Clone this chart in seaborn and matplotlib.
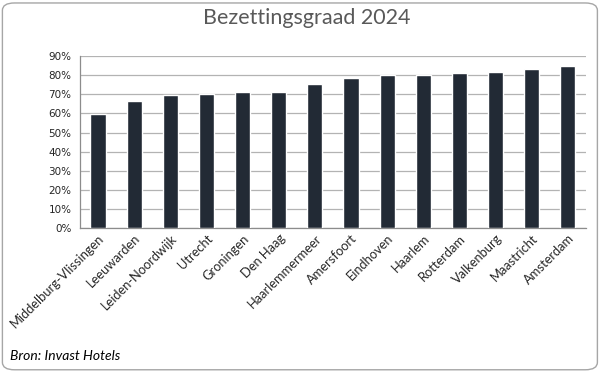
import numpy as np
import pandas as pd
import seaborn as sns
import matplotlib.pyplot as plt
from matplotlib.patches import FancyBboxPatch
from matplotlib.ticker import PercentFormatter

# data
steden = ["Middelburg-Vlissingen", "Leeuwarden", "Leiden-Noordwijk", "Utrecht",
          "Groningen", "Den Haag", "Haarlemmermeer", "Amersfoort", "Eindhoven",
          "Haarlem", "Rotterdam", "Valkenburg", "Maastricht", "Amsterdam"]
bezetting = [0.597, 0.665, 0.696, 0.702, 0.712, 0.713, 0.754, 0.785,
             0.801, 0.801, 0.812, 0.817, 0.832, 0.848]
y_ticks = [0, 0.1, 0.2, 0.3, 0.4, 0.5, 0.6, 0.7, 0.8, 0.9]

df = pd.DataFrame({"stad": steden, "bezetting": bezetting})

sns.set_style("white")
plt.rcParams['font.family'] = ['Lato', 'DejaVu Sans']

fig = plt.figure(figsize=(6.01, 3.72), dpi=100)
ax = fig.add_axes([0.133, 0.387, 0.842, 0.462])

sns.barplot(data=df, x="stad", y="bezetting", color="#222a35",
            width=0.42, saturation=1, ax=ax, zorder=3)

ax.set_ylim(0, 0.9)
ax.set_yticks(y_ticks)
ax.yaxis.set_major_formatter(PercentFormatter(1.0, decimals=0))
ax.set_xlim(-0.5, len(steden) - 0.5)
ax.grid(axis="y", color="#b3b3b3", linewidth=0.9, zorder=0)
ax.set_xlabel("")
ax.set_ylabel("")

for side in ["top", "right"]:
    ax.spines[side].set_visible(False)
for side in ["left", "bottom"]:
    ax.spines[side].set_color("#8c8c8c")
    ax.spines[side].set_linewidth(0.9)

ax.tick_params(axis="y", length=0, pad=6)
plt.setp(ax.get_yticklabels(), fontsize=7.5, color="#262626",
         family="DejaVu Sans")
ax.tick_params(axis="x", length=0, pad=3)
plt.setp(ax.get_xticklabels(), rotation=45, ha="right", rotation_mode="anchor",
         fontsize=9.3, color="#262626")

fig.text(0.511, 0.952, "Bezettingsgraad 2024", ha="center", va="center",
         fontsize=15.5, color="#595959")
fig.text(0.017, 0.043, "Bron: Invast Hotels", ha="left", va="center",
         fontsize=10, style="italic", color="#000000")

# rounded chart border
fig.patches.append(FancyBboxPatch((0.004, 0.006), 0.99, 0.986,
                                  boxstyle="round,pad=0,rounding_size=0.02",
                                  transform=fig.transFigure, fill=False,
                                  edgecolor="#a6a6a6", linewidth=1))

plt.savefig("out.png", dpi=100)
